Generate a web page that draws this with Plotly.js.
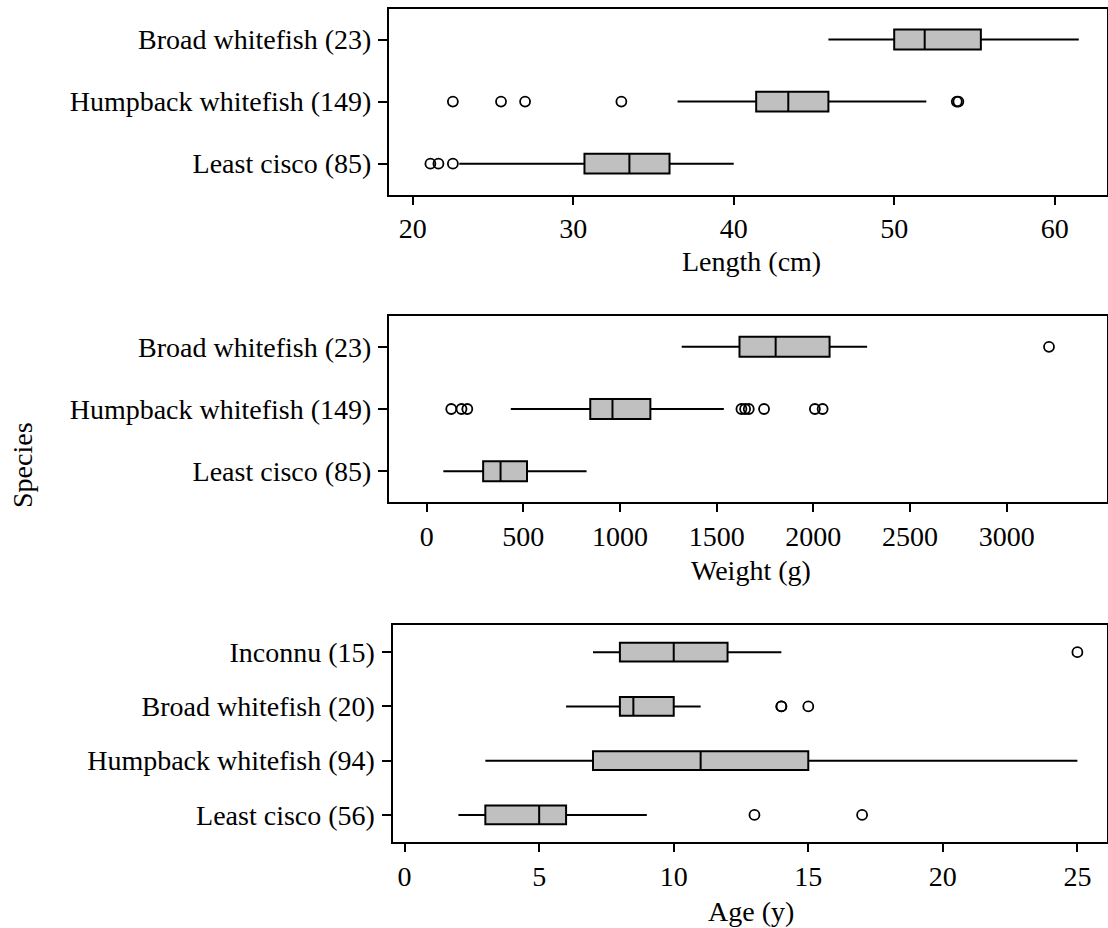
<!DOCTYPE html>
<html>
<head>
<meta charset="utf-8">
<script src="https://cdn.plot.ly/plotly-3.0.1.min.js"></script>
<style>html,body{margin:0;padding:0;background:#fff;} #chart{width:1108px;height:928px;}</style>
</head>
<body>
<div id="chart"></div>
<script>
// ---- Length (cm) ----
const lenCats = ['Least cisco (85)', 'Humpback whitefish (149)', 'Broad whitefish (23)'];
const lenLo  = [22.9, 36.5, 45.9];
const lenQ1  = [30.7, 41.4, 50.0];
const lenMed = [33.5, 43.4, 51.9];
const lenQ3  = [36.0, 45.9, 55.4];
const lenHi  = [40.0, 52.0, 61.5];
const lenOutCat = ['Least cisco (85)', 'Least cisco (85)', 'Least cisco (85)',
  'Humpback whitefish (149)', 'Humpback whitefish (149)', 'Humpback whitefish (149)',
  'Humpback whitefish (149)', 'Humpback whitefish (149)', 'Humpback whitefish (149)'];
const lenOutVal = [21.1, 21.6, 22.5, 22.5, 25.5, 27.0, 33.0, 53.9, 54.0];

// ---- Weight (g) ----
const wtCats = ['Least cisco (85)', 'Humpback whitefish (149)', 'Broad whitefish (23)'];
const wtLo  = [86, 435, 1319];
const wtQ1  = [292, 846, 1618];
const wtMed = [382, 961, 1805];
const wtQ3  = [519, 1157, 2084];
const wtHi  = [827, 1537, 2278];
const wtOutCat = ['Humpback whitefish (149)', 'Humpback whitefish (149)', 'Humpback whitefish (149)',
  'Humpback whitefish (149)', 'Humpback whitefish (149)', 'Humpback whitefish (149)',
  'Humpback whitefish (149)', 'Humpback whitefish (149)', 'Humpback whitefish (149)',
  'Broad whitefish (23)'];
const wtOutVal = [127, 180, 210, 1628, 1647, 1666, 1745, 2008, 2048, 3219];

// ---- Age (y) ----
const ageCats = ['Least cisco (56)', 'Humpback whitefish (94)', 'Broad whitefish (20)', 'Inconnu (15)'];
const ageLo  = [2, 3, 6, 7];
const ageQ1  = [3, 7, 8, 8];
const ageMed = [5, 11, 8.5, 10];
const ageQ3  = [6, 15, 10, 12];
const ageHi  = [9, 25, 11, 14];
const ageOutCat = ['Least cisco (56)', 'Least cisco (56)', 'Broad whitefish (20)',
  'Broad whitefish (20)', 'Broad whitefish (20)', 'Inconnu (15)'];
const ageOutVal = [13, 17, 14, 14, 15, 25];

const lenTicks = [20, 30, 40, 50, 60];
const wtTicks = [0, 500, 1000, 1500, 2000, 2500, 3000];
const ageTicks = [0, 5, 10, 15, 20, 25];

const FONT = 'Liberation Serif, Times New Roman, serif';
const FS = 28;

function boxTrace(cats, lo, q1, med, q3, hi, xa, ya, w) {
  return {
    type: 'box', orientation: 'h', y: cats,
    lowerfence: lo, q1: q1, median: med, q3: q3, upperfence: hi,
    fillcolor: '#c0c0c0', line: {color: 'black', width: 2},
    whiskerwidth: 0, width: w, xaxis: xa, yaxis: ya, showlegend: false, hoverinfo: 'x'
  };
}
function outTrace(cats, vals, xa, ya) {
  return {
    type: 'scatter', mode: 'markers', x: vals, y: cats,
    marker: {symbol: 'circle-open', size: 10, color: 'black', line: {width: 1.8, color: 'black'}},
    xaxis: xa, yaxis: ya, showlegend: false, hoverinfo: 'x'
  };
}

const data = [
  boxTrace(lenCats, lenLo, lenQ1, lenMed, lenQ3, lenHi, 'x', 'y', 0.32),
  outTrace(lenOutCat, lenOutVal, 'x', 'y'),
  boxTrace(wtCats, wtLo, wtQ1, wtMed, wtQ3, wtHi, 'x2', 'y2', 0.32),
  outTrace(wtOutCat, wtOutVal, 'x2', 'y2'),
  boxTrace(ageCats, ageLo, ageQ1, ageMed, ageQ3, ageHi, 'x3', 'y3', 0.35),
  outTrace(ageOutCat, ageOutVal, 'x3', 'y3')
];

const W = 1108, H = 928;
const px = v => v / W;
const py = v => 1 - v / H;

function xax(dom, range, ticks, anchor) {
  return {
    domain: dom, range: range, tickvals: ticks, ticktext: ticks.map(String),
    showline: true, mirror: true, linecolor: 'black', linewidth: 2,
    ticks: 'outside', ticklen: 8, tickwidth: 2, tickcolor: 'black',
    showgrid: false, zeroline: false, anchor: anchor, ticklabelstandoff: 0,
    tickfont: {family: FONT, size: FS, color: 'black'}, fixedrange: true
  };
}
function yax(dom, cats, anchor) {
  return {
    domain: dom, type: 'category', categoryorder: 'array', categoryarray: cats,
    range: [-0.5, cats.length - 0.5],
    showline: true, mirror: true, linecolor: 'black', linewidth: 2,
    ticks: 'outside', ticklen: 9, tickwidth: 2, tickcolor: 'black',
    showgrid: false, zeroline: false, anchor: anchor, ticklabelstandoff: 1,
    tickfont: {family: FONT, size: FS, color: 'black'}, fixedrange: true
  };
}

const layout = {
  width: W, height: H,
  margin: {l: 0, r: 0, t: 0, b: 0},
  paper_bgcolor: 'white', plot_bgcolor: 'white',
  font: {family: FONT, size: FS, color: 'black'},
  showlegend: false,
  xaxis:  xax([px(389), px(1107)], [18.52, 63.26], lenTicks, 'y'),
  yaxis:  yax([py(194.7), py(8.5)], lenCats, 'x'),
  xaxis2: xax([px(389), px(1107)], [-195, 3519], wtTicks, 'y2'),
  yaxis2: yax([py(502.3), py(315.7)], wtCats, 'x2'),
  xaxis3: xax([px(392.5), px(1107)], [-0.45, 26.1], ageTicks, 'y3'),
  yaxis3: yax([py(842), py(625)], ageCats, 'x3'),
  annotations: [
    {text: 'Length (cm)', xref: 'paper', yref: 'paper', x: px(751), y: py(261), xanchor: 'center', yanchor: 'middle', showarrow: false, font: {family: FONT, size: FS, color: 'black'}},
    {text: 'Weight (g)', xref: 'paper', yref: 'paper', x: px(751), y: py(570), xanchor: 'center', yanchor: 'middle', showarrow: false, font: {family: FONT, size: FS, color: 'black'}},
    {text: 'Age (y)', xref: 'paper', yref: 'paper', x: px(751), y: py(911), xanchor: 'center', yanchor: 'middle', showarrow: false, font: {family: FONT, size: FS, color: 'black'}},
    {text: 'Species', xref: 'paper', yref: 'paper', x: px(22), y: py(465), xanchor: 'center', yanchor: 'middle', textangle: -90, showarrow: false, font: {family: FONT, size: FS, color: 'black'}}
  ]
};

Plotly.newPlot('chart', data, layout, {displayModeBar: false, staticPlot: true});
</script>
</body>
</html>
